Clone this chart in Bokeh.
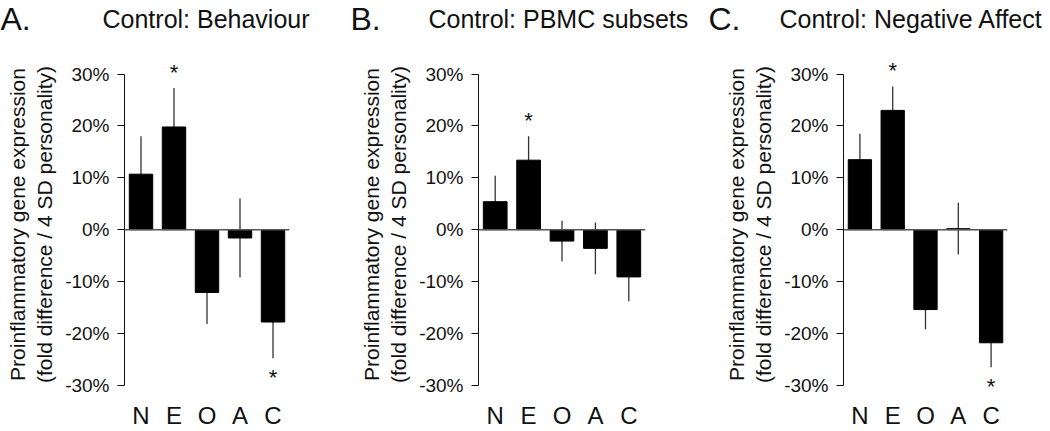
from bokeh.plotting import figure
from bokeh.layouts import row, column
from bokeh.models import FactorRange, Range1d, FixedTicker, PrintfTickFormatter, Span
from bokeh.embed import file_html
from bokeh.resources import INLINE
from bokeh.core.properties import value

categories = ["N", "E", "O", "A", "C"]

behaviour = [10.7, 19.8, -12.1, -1.6, -17.8]
behaviour_err = [7.3, 7.5, 6.1, 7.6, 7.0]
behaviour_sig = [False, True, False, False, True]

pbmc = [5.4, 13.4, -2.2, -3.6, -9.1]
pbmc_err = [5.0, 4.6, 3.9, 5.0, 4.7]
pbmc_sig = [False, True, False, False, False]

negaff = [13.5, 23.0, -15.4, 0.2, -21.8]
negaff_err = [5.0, 4.6, 3.8, 5.0, 4.7]
negaff_sig = [False, True, False, False, True]

y_ticks = [-30, -20, -10, 0, 10, 20, 30]
panel_letters = ["A.", "B.", "C."]
panel_titles = ["Control: Behaviour", "Control: PBMC subsets", "Control: Negative Affect"]
y_label = "Proinflammatory gene expression\n(fold difference / 4 SD personality)"

FONT = "Liberation Sans"
INK = "#111111"
PW, PH = 350, 391      # panel size
TW, TH = 1050, 40      # title strip size


def make_panel(vals, errs, sig, bl, br):
    p = figure(width=PW, height=PH, x_range=FactorRange(*categories, range_padding=0),
               y_range=Range1d(-31, 33), output_backend="svg", toolbar_location=None,
               min_border_left=bl, min_border_right=br, min_border_top=18, min_border_bottom=36)
    p.outline_line_color = None
    p.grid.visible = False
    p.background_fill_color = "white"
    p.border_fill_color = "white"

    lo = [v - e for v, e in zip(vals, errs)]
    hi = [v + e for v, e in zip(vals, errs)]
    p.segment(x0=categories, y0=lo, x1=categories, y1=hi, line_color="#333333", line_width=1.3)
    p.vbar(x=categories, top=vals, bottom=0, width=0.71, fill_color="black", line_color="black")
    p.add_layout(Span(location=0, dimension="width", line_color="#555555", line_width=1.5))

    sx, sy = [], []
    for c, v, e, s in zip(categories, vals, errs, sig):
        if s:
            sx.append(c)
            sy.append(v + e + 3.0 if v > 0 else v - e - 3.7)
    if sx:
        p.text(x=sx, y=sy, text=["*"] * len(sx), text_font=value(FONT), text_font_size="22px",
               text_align="center", text_baseline="middle", text_color=INK)

    ya = p.yaxis[0]
    ya.bounds = (-30, 30)
    ya.ticker = FixedTicker(ticks=y_ticks)
    ya.formatter = PrintfTickFormatter(format="%d%%")
    ya.minor_tick_line_color = None
    ya.major_tick_out = 7
    ya.major_tick_in = 0
    ya.axis_line_color = INK
    ya.major_tick_line_color = INK
    ya.major_label_text_font = FONT
    ya.major_label_text_font_size = "19px"
    ya.major_label_text_color = INK
    ya.major_label_standoff = 8
    ya.axis_label = y_label
    ya.axis_label_text_font = FONT
    ya.axis_label_text_font_size = "21px"
    ya.axis_label_text_font_style = "normal"
    ya.axis_label_text_color = INK
    ya.axis_label_standoff = 6

    xa = p.xaxis[0]
    xa.axis_line_color = None
    xa.major_tick_line_color = None
    xa.minor_tick_line_color = None
    xa.major_label_text_font = FONT
    xa.major_label_text_font_size = "24px"
    xa.major_label_text_color = INK
    xa.major_label_standoff = 5
    return p


# title strip
t = figure(width=TW, height=TH, x_range=Range1d(0, TW), y_range=Range1d(0, TH),
           x_axis_type=None, y_axis_type=None, output_backend="svg", toolbar_location=None,
           min_border=0)
t.outline_line_color = None
t.grid.visible = False
letter_x = [0, 350, 708]
title_x = [102, 428, 779]
baseline_y = [22, 22, 22]
t.text(x=letter_x, y=baseline_y, text=panel_letters, text_font=value(FONT), text_font_size="32px",
       text_baseline="alphabetic", text_align="left", text_color=INK)
t.text(x=title_x, y=baseline_y, text=panel_titles, text_font=value(FONT), text_font_size="25px",
       text_baseline="alphabetic", text_align="left", text_color=INK)

pa = make_panel(behaviour, behaviour_err, behaviour_sig, 124, 61)
pb = make_panel(pbmc, pbmc_err, pbmc_sig, 128, 55)
pc = make_panel(negaff, negaff_err, negaff_sig, 143, 43)

layout = column(t, row(pa, pb, pc, spacing=0), spacing=0)
open("out.html", "w").write(file_html(layout, INLINE))
